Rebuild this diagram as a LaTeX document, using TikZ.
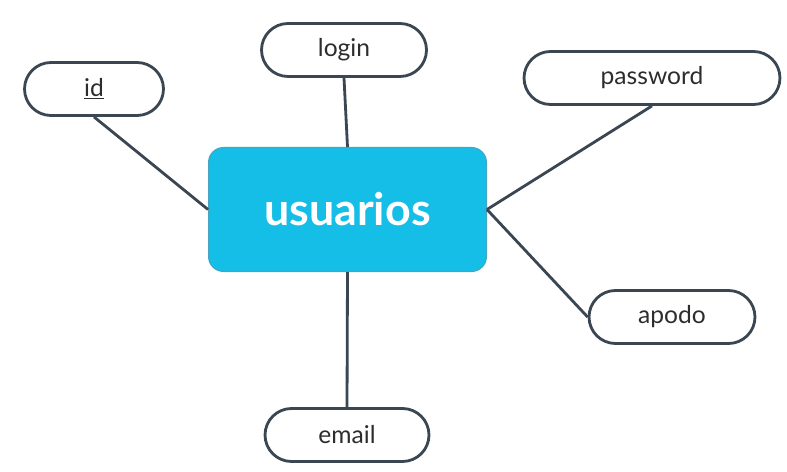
\documentclass[tikz,border=0pt]{standalone}
\usepackage{fontspec}
\setmainfont{Lato}
\usetikzlibrary{shapes.misc}

\begin{document}
\begin{tikzpicture}[x=.02cm,y=-.02cm]
 \definecolor{ent}{RGB}{20,190,230}
 \definecolor{entb}{RGB}{70,165,195}
 \definecolor{lin}{RGB}{58,70,82}
 \definecolor{txt}{RGB}{45,45,45}
 \tikzset{
   attr/.style={rounded rectangle,draw=lin,line width=1.6pt,fill=white,
     minimum height=1.06cm,inner sep=0pt,text=txt,
     font=\fontsize{14}{16}\selectfont},
   link/.style={draw=lin,line width=1.6pt}
 }
 \useasboundingbox (0,0) rectangle (787,472);
 \node[fill=ent,draw=entb,line width=.6pt,rounded corners=.3cm,
   minimum width=5.56cm,minimum height=2.48cm,text=white,
   font=\fontsize{25.5}{30}\selectfont\bfseries] (usu) at (347.5,209.5) {usuarios};
 \foreach \nm/\lbl/\xp/\yp/\wdt in {
   id/\underline{id}/94/89/2.78,
   login/login/344/50/3.3,
   password/password/652/78/5.12,
   apodo/apodo/672/317/3.32,
   email/email/347/435/3.28
 } {
   \node[attr,minimum width=\wdt cm] (\nm) at (\xp,\yp) {\lbl};
 }
 \draw[link] (id.south) -- (usu.west);
 \draw[link] (login.south) -- (usu.north);
 \draw[link] (password.south) -- (usu.east);
 \draw[link] (usu.east) -- (apodo.west);
 \draw[link] (usu.south) -- (email.north);
\end{tikzpicture}
\end{document}
